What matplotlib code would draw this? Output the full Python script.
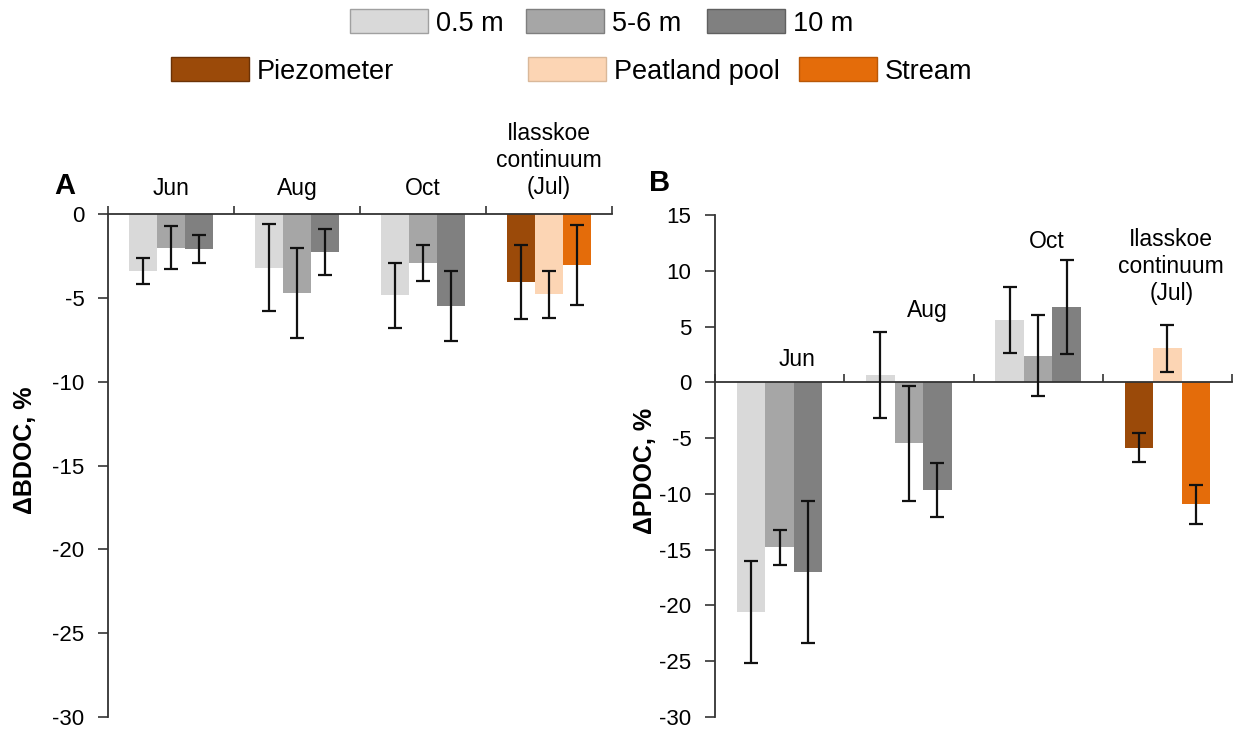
import matplotlib
matplotlib.use("Agg")
import matplotlib.pyplot as plt
from matplotlib.patches import Patch
import numpy as np

plt.rcParams['font.family'] = ['Liberation Sans', 'DejaVu Sans']
plt.rcParams['axes.unicode_minus'] = False

# ---------------- data ----------------
groups_A = ["Jun", "Aug", "Oct", "Ilasskoe\ncontinuum\n(Jul)"]
groups_B = ["Jun", "Aug", "Oct", "Ilasskoe\ncontinuum\n(Jul)"]
depth_labels = ["0.5 m", "5-6 m", "10 m"]
site_labels = ["Piezometer", "Peatland pool", "Stream"]

# Panel A: ΔBDOC (rows = groups, cols = 3 bars in group)
bdoc_vals = [[-3.4, -2.0, -2.1],
             [-3.2, -4.7, -2.25],
             [-4.85, -2.9, -5.5],
             [-4.05, -4.8, -3.05]]
bdoc_err = [[0.76, 1.3, 0.84],
            [2.6, 2.7, 1.37],
            [1.92, 1.08, 2.1],
            [2.2, 1.4, 2.37]]

# Panel B: ΔPDOC
pdoc_vals = [[-20.6, -14.8, -17.0],
             [0.65, -5.45, -9.65],
             [5.6, 2.4, 6.75],
             [-5.85, 3.05, -10.95]]
pdoc_err = [[4.55, 1.6, 6.4],
            [3.85, 5.15, 2.4],
            [2.95, 3.6, 4.25],
            [1.27, 2.1, 1.77]]

grey_colors = ["#d9d9d9", "#a6a6a6", "#808080"]
site_colors = ["#9b4a09", "#fcd5b4", "#e46c0a"]

W, H = 1240, 731
fig = plt.figure(figsize=(W / 100, H / 100), dpi=100)


def fx(px):
    return px / W


def fy(py):
    return 1 - py / H


TICK_FS = 16
CAT_FS = 16.5
LEG_FS = 19.5
YLAB_FS = 18
bw = 0.22


def draw_bars(ax, vals, errs):
    for i in range(4):
        cols = site_colors if i == 3 else grey_colors
        for j in range(3):
            x = i + (j - 1) * bw
            ax.bar(x, vals[i][j], width=bw, color=cols[j], edgecolor='none', zorder=2)
            ax.errorbar(x, vals[i][j], yerr=errs[i][j], fmt='none', ecolor='#111111',
                        elinewidth=1.6, capsize=5, capthick=1.6, zorder=3)


def style_y(ax):
    ax.tick_params(axis='y', direction='out', length=7, width=1.2, color='#333333',
                   labelsize=TICK_FS, pad=10)


# ---------------- Panel A ----------------
axA = fig.add_axes([fx(108), fy(717), fx(612) - fx(108), fy(214) - fy(717)])
draw_bars(axA, bdoc_vals, bdoc_err)
axA.set_xlim(-0.5, 3.5)
axA.set_ylim(-30, 0)
axA.set_yticks(np.arange(-30, 1, 5))
axA.spines['right'].set_visible(False)
axA.spines['bottom'].set_visible(False)
for s in ['left', 'top']:
    axA.spines[s].set_color('#333333')
    axA.spines[s].set_linewidth(1.3)
axA.xaxis.tick_top()
axA.set_xticks(np.arange(-0.5, 3.6, 1))
axA.set_xticklabels([])
axA.tick_params(axis='x', direction='out', length=6, width=1.2, color='#333333')
style_y(axA)
axA.set_ylabel("ΔBDOC, %", fontsize=YLAB_FS, fontweight='bold')
axA.yaxis.set_label_coords(-0.14, 0.531)
for i, g in enumerate(groups_A):
    if "\n" in g:
        axA.text(i, 1.030, g, transform=axA.get_xaxis_transform(), ha='center',
                 va='bottom', fontsize=CAT_FS, linespacing=1.22)
    else:
        axA.text(i, 1.038, g, transform=axA.get_xaxis_transform(), ha='center',
                 va='baseline', fontsize=CAT_FS)
fig.text(fx(65), fy(186), "A", fontsize=21, fontweight='bold', ha='center', va='center')

# ---------------- Panel B ----------------
axB = fig.add_axes([fx(715), fy(717), fx(1232) - fx(715), fy(215) - fy(717)])
draw_bars(axB, pdoc_vals, pdoc_err)
axB.set_xlim(-0.5, 3.5)
axB.set_ylim(-30, 15)
axB.set_yticks(np.arange(-30, 16, 5))
axB.spines['right'].set_visible(False)
axB.spines['top'].set_visible(False)
axB.spines['bottom'].set_position(('data', 0))
for s in ['left', 'bottom']:
    axB.spines[s].set_color('#333333')
    axB.spines[s].set_linewidth(1.3)
axB.set_xticks(np.arange(-0.5, 3.6, 1))
axB.set_xticklabels([])
axB.tick_params(axis='x', direction='in', length=6, width=1.2, color='#333333')
style_y(axB)
axB.set_ylabel("ΔPDOC, %", fontsize=YLAB_FS, fontweight='bold')
axB.yaxis.set_label_coords(-0.112, 0.49)
label_y_B = [1.43, 5.9, 12.0, 6.9]
label_dx_B = [0.135, 0.14, 0.07, 0.03]
for i, g in enumerate(groups_B):
    va = 'bottom' if "\n" in g else 'baseline'
    axB.text(i + label_dx_B[i], label_y_B[i], g, ha='center', va=va, fontsize=CAT_FS,
             linespacing=1.22)
fig.text(fx(660), fy(183), "B", fontsize=21, fontweight='bold', ha='center', va='center')

# ---------------- Legends ----------------
def add_entry(label, color, edge, x_px, y_px):
    h = Patch(facecolor=color, edgecolor=edge, linewidth=1)
    fig.legend(handles=[h], labels=[label], loc='center left',
               bbox_to_anchor=(fx(x_px), fy(y_px)), frameon=False, fontsize=LEG_FS,
               handlelength=2.88, handleheight=0.96, handletextpad=0.3,
               borderpad=0, borderaxespad=0)


edges_grey = ["#a0a0a0", "#7f7f7f", "#606060"]
edges_site = ["#6b3206", "#d9b89a", "#b85707"]
row1_x = [350, 526, 707]
row2_x = [171, 528, 799]
for k in range(3):
    add_entry(depth_labels[k], grey_colors[k], edges_grey[k], row1_x[k], 23)
    add_entry(site_labels[k], site_colors[k], edges_site[k], row2_x[k], 71)

fig.savefig("out.png", dpi=100)
